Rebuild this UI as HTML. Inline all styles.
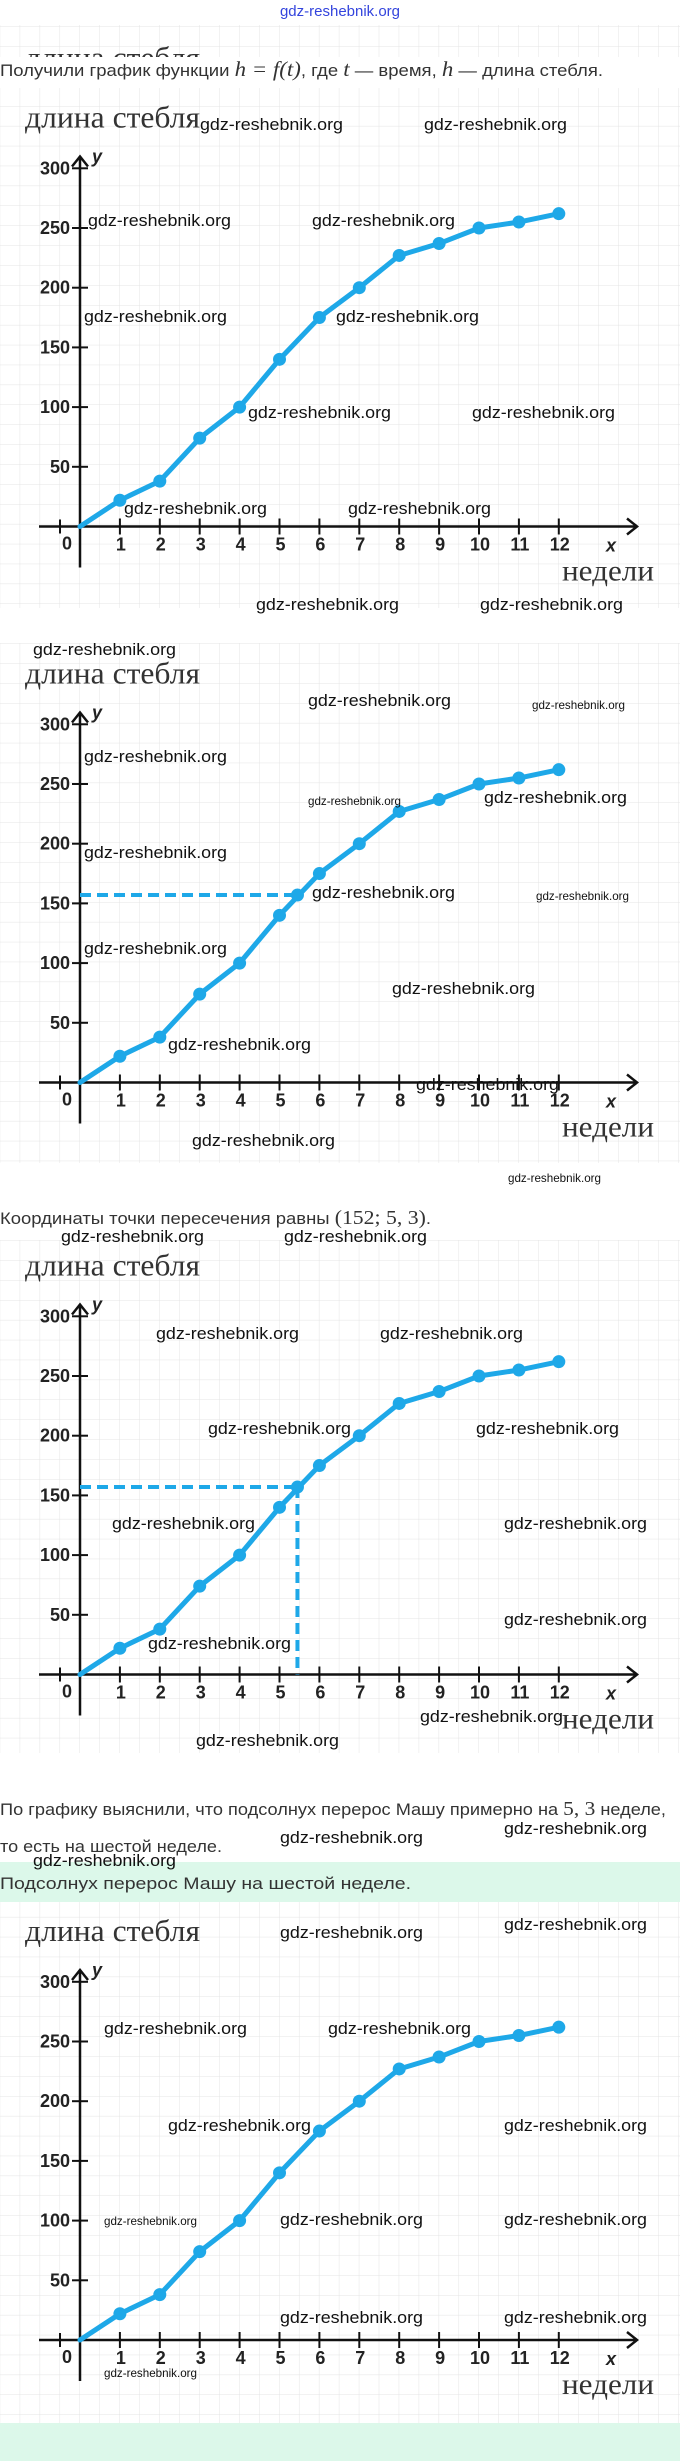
<!DOCTYPE html>
<html><head><meta charset="utf-8">
<style>
html,body{margin:0;padding:0;background:#fff;}
svg{display:block;}
.wm{font-family:"Liberation Sans Narrow","Liberation Sans",sans-serif;font-size:17px;fill:#111;}
.wms{font-family:"Liberation Sans Narrow","Liberation Sans",sans-serif;font-size:12px;fill:#111;}
.txt{font-family:"Liberation Sans","DejaVu Sans",sans-serif;font-size:17px;fill:#333;}
.tick{font-family:"Liberation Sans","DejaVu Sans",sans-serif;font-size:18px;fill:#222;font-weight:bold;}
.ser{font-family:"Liberation Serif","DejaVu Serif",serif;fill:#333;}
</style></head>
<body>
<svg id="page" width="680" height="2461" viewBox="0 0 680 2461" xmlns="http://www.w3.org/2000/svg">
<defs>
<pattern id="grid" width="19.95" height="19.9" patternUnits="userSpaceOnUse" x="0.2" y="7">
<path d="M19.95 0V19.9M0 19.9H19.95" fill="none" stroke="#e4e4e4" stroke-width="1"/>
</pattern>
<clipPath id="topclip"><rect x="0" y="25" width="680" height="32"/></clipPath>
</defs>
<rect x="0" y="1862" width="680" height="599" fill="#dcf8ea"/>
<rect x="0" y="25" width="680" height="32" fill="url(#grid)"/>
<text x="25" y="68" class="ser" font-size="31" clip-path="url(#topclip)" textLength="175" lengthAdjust="spacingAndGlyphs">длина стебля</text>
<rect x="0" y="88" width="680" height="520" fill="url(#grid)"/>
<rect x="0" y="643" width="680" height="520" fill="url(#grid)"/>
<rect x="0" y="1240" width="680" height="513" fill="url(#grid)"/>
<rect x="0" y="1902" width="680" height="521" fill="#fff"/>
<rect x="0" y="1902" width="680" height="521" fill="url(#grid)"/>
<text x="340" y="16" text-anchor="middle" font-family="Liberation Sans Narrow, Liberation Sans, sans-serif" font-size="15" fill="#3344dd">gdz-reshebnik.org</text>
<text class="txt" x="0" y="76" textLength="603" lengthAdjust="spacingAndGlyphs">Получили график функции <tspan font-family="Liberation Serif" font-style="italic" font-size="21">h = f(t)</tspan>, где <tspan font-family="Liberation Serif" font-style="italic" font-size="21">t</tspan> — время, <tspan font-family="Liberation Serif" font-style="italic" font-size="21">h</tspan> — длина стебля.</text>
<text class="txt" x="0" y="1224" textLength="431" lengthAdjust="spacingAndGlyphs">Координаты точки пересечения равны <tspan font-family="Liberation Serif" font-size="20">(152; 5, 3)</tspan>.</text>
<text class="txt" x="0" y="1815" textLength="666" lengthAdjust="spacingAndGlyphs">По графику выяснили, что подсолнух перерос Машу примерно на <tspan font-family="Liberation Serif" font-size="20">5, 3</tspan> неделе,</text>
<text class="txt" x="0" y="1852" textLength="222" lengthAdjust="spacingAndGlyphs">то есть на шестой неделе.</text>
<text class="txt" x="0" y="1889" textLength="411" lengthAdjust="spacingAndGlyphs">Подсолнух перерос Машу на шестой неделе.</text>
<g id="charts"></g>
<g id="wms"></g>
</svg>
<script>
const weeks = [0,1,2,3,4,5,6,7,8,9,10,11,12];
const heights = [0,22,38,74,100,140,175,200,227,237,250,255,262];
const yTicks = [50,100,150,200,250,300];
const xTicks = [1,2,3,4,5,6,7,8,9,10,11,12];
const crossT = [5.45];
const crossH = [157];
const axisYs = [526.5, 1082.5, 1674.5, 2340];
const dashModes = ['none','h','hv','none'];

const NS='http://www.w3.org/2000/svg';
const root=document.getElementById('charts');
function mk(tag,attrs,parent){const e=document.createElementNS(NS,tag);for(const k in attrs)e.setAttribute(k,attrs[k]);(parent||root).appendChild(e);return e;}
const X0=80, XU=39.9, YU=1.194;

axisYs.forEach((ay,ci)=>{
  const xs=t=>X0+t*XU, ys=v=>ay-v*YU;
  const g=mk('g',{});
  
  
  const t1=mk('text',{x:25,y:ay-399,'class':'ser','font-size':'31',textLength:'175',lengthAdjust:'spacingAndGlyphs'},g);t1.textContent='длина стебля';
  
  
  const t2=mk('text',{x:562,y:ay+54,'class':'ser','font-size':'30',textLength:'92',lengthAdjust:'spacingAndGlyphs'},g);t2.textContent='недели';
  
  
  const xa=mk('path',{d:`M39 ${ay}H637M627 ${ay-8}L637 ${ay}L627 ${ay+8}`,stroke:'#111','stroke-width':'2.5',fill:'none'},g);
  
  
  const ya=mk('path',{d:`M80 ${ay+41}V${ay-395+25}M72 ${ay-395+35}L80 ${ay-395+25}L88 ${ay-395+35}`,stroke:'#111','stroke-width':'2.5',fill:'none'},g);
  
  
  const yl=mk('text',{x:92,y:ys(300)-6,'class':'tick','font-style':'italic','font-weight':'normal','font-size':'19'},g);yl.textContent='y';
  
  
  const xl=mk('text',{x:606,y:ay+25,'class':'tick','font-style':'italic','font-weight':'normal','font-size':'19'},g);xl.textContent='x';
  
  
  const z=mk('text',{x:67,y:ay+23,'class':'tick','text-anchor':'middle'},g);z.textContent='0';
  
  
  mk('path',{d:`M60 ${ay-7}V${ay+7}`,stroke:'#111','stroke-width':'2'},g);
  yTicks.forEach(v=>{
    const tk=mk('path',{d:`M72 ${ys(v)}H88`,stroke:'#111','stroke-width':'2'},g);
    
    
    const l=mk('text',{x:70,y:ys(v)+6,'class':'tick','text-anchor':'end'},g);l.textContent=v;
    
    
  });
  xTicks.forEach(t=>{
    const tk=mk('path',{d:`M${xs(t)} ${ay-8}V${ay+8}`,stroke:'#111','stroke-width':'2'},g);
    
    
    const l=mk('text',{x:xs(t)+1,y:ay+24,'class':'tick','text-anchor':'middle'},g);l.textContent=t;
    
    
  });
  const m=dashModes[ci];
  if(m!=='none'){
    const dh=mk('path',{d:`M${xs(0)} ${ys(crossH[0])}H${xs(crossT[0])}`,stroke:'#1ea8e8','stroke-width':'4','stroke-dasharray':'11 6',fill:'none'},g);
    
    
    if(m==='hv'){
      const dv=mk('path',{d:`M${xs(crossT[0])} ${ys(crossH[0])}V${ay}`,stroke:'#1ea8e8','stroke-width':'4','stroke-dasharray':'11 6',fill:'none'},g);
      
      
    }
  }
  const pts=weeks.map((t,i)=>xs(t)+','+ys(heights[i])).join(' ');
  const pl=mk('polyline',{points:pts,fill:'none',stroke:'#1ea8e8','stroke-width':'5','stroke-linejoin':'round','stroke-linecap':'round'},g);
  
  
  weeks.forEach((t,i)=>{
    if(i===0)return;
    const c=mk('circle',{cx:xs(t),cy:ys(heights[i]),r:6.5,fill:'#1ea8e8'},g);
    
    
  });
  if(m!=='none'){
    const c=mk('circle',{cx:xs(crossT[0]),cy:ys(crossH[0]),r:6.5,fill:'#1ea8e8'},g);
    
    
  }
});

const W=[[200,124,0],[424,124,0],[88,220,0],[312,220,0],[84,316,0],[336,316,0],[248,412,0],[472,412,0],[124,508,0],[348,508,0],[256,604,0],[480,604,0],
[33,649,0],[308,700,0],[532,703,1],[84,756,0],[308,799,1],[484,797,0],[84,852,0],[312,892,0],[536,894,1],[84,948,0],[392,988,0],[168,1044,0],[416,1084,0],[192,1140,0],[508,1176,1],
[61,1236,0],[284,1236,0],[156,1333,0],[380,1333,0],[208,1428,0],[476,1428,0],[112,1523,0],[504,1523,0],[504,1619,0],[148,1643,0],[420,1716,0],[196,1740,0],[504,1828,0],[280,1837,0],[33,1860,0],
[280,1932,0],[504,1924,0],[104,2028,0],[328,2028,0],[168,2125,0],[504,2125,0],[104,2219,1],[280,2219,0],[504,2219,0],[280,2317,0],[504,2317,0],[104,2371,1]];
const wg=document.getElementById('wms');
W.forEach(w=>{
  const t=document.createElementNS(NS,'text');
  t.setAttribute('x',w[0]);t.setAttribute('y',w[1]+6);
  t.setAttribute('class',w[2]?'wms':'wm');
  t.setAttribute('textLength',w[2]?93:143);
  t.setAttribute('lengthAdjust','spacingAndGlyphs');
  t.textContent='gdz-reshebnik.org';
  
  
  wg.appendChild(t);
});
</script>
</body></html>
